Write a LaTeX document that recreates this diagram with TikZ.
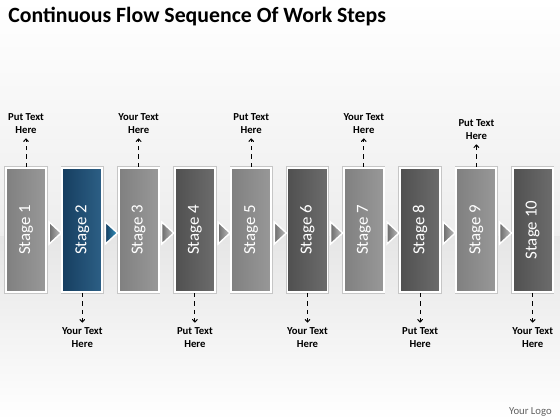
\documentclass[tikz,border=0pt]{standalone}
\usepackage{fontspec}
\setmainfont{Carlito}
\usepackage{tikz}
\usetikzlibrary{shapes.geometric,arrows.meta}
\definecolor{lightstage}{RGB}{128,128,128}
\definecolor{lightstagetwo}{RGB}{152,152,152}
\definecolor{darkstage}{RGB}{80,80,80}
\definecolor{darkstagetwo}{RGB}{108,108,108}
\definecolor{bluestage}{RGB}{22,62,96}
\definecolor{bluestagetwo}{RGB}{45,96,134}
\definecolor{bluetip}{RGB}{52,150,196}

\begin{document}
\begin{tikzpicture} [x=0.025cm, y=-0.025cm,
  stagebox/.style={minimum width=1cm, minimum height=3.1cm, inner sep=0pt,
    draw=white, line width=1.4pt, preaction={draw=gray!45, line width=2.4pt},
    text=white, font=\fontsize{12}{14}\selectfont},
  lightbox/.style={stagebox, left color=lightstage, right color=lightstagetwo},
  darkbox/.style={stagebox, left color=darkstage, right color=darkstagetwo},
  bluebox/.style={stagebox, left color=bluestage, right color=bluestagetwo},
  tip/.style={isosceles triangle, isosceles triangle stretches, inner sep=0pt,
    minimum height=0.3cm, minimum width=0.55cm, draw=white, line width=1pt,
    left color=gray!85!black, right color=gray!50},
  note/.style={align=center, font=\bfseries\fontsize{7.6}{9.2}\selectfont},
  pointer/.style={dashed, line width=0.7pt, -{To[length=2.5pt,width=4pt]}}]
\useasboundingbox (0,0) rectangle (560,420);
% background
\shade[top color=white, bottom color=gray!14] (0,0) rectangle (560,236);
\shade[top color=gray!20, bottom color=white] (0,236) rectangle (560,420);
% title
\node [anchor=base west, inner sep=0pt, font=\bfseries\fontsize{15.5}{18}\selectfont] (title) at (8,23) {Continuous Flow Sequence Of Work Steps};
% stages
\node [lightbox] (s1) at (26,230) {\rotatebox{90}{Stage 1}};
\node [bluebox] (s2) at (82.3,230) {\rotatebox{90}{Stage 2}};
\node [lightbox] (s3) at (138.6,230) {\rotatebox{90}{Stage 3}};
\node [darkbox] (s4) at (194.9,230) {\rotatebox{90}{Stage 4}};
\node [lightbox] (s5) at (251.2,230) {\rotatebox{90}{Stage 5}};
\node [darkbox] (s6) at (307.5,230) {\rotatebox{90}{Stage 6}};
\node [lightbox] (s7) at (363.8,230) {\rotatebox{90}{Stage 7}};
\node [darkbox] (s8) at (420.1,230) {\rotatebox{90}{Stage 8}};
\node [lightbox] (s9) at (476.4,230) {\rotatebox{90}{Stage 9}};
\node [darkbox] (s10) at (532.7,230) {\rotatebox{90}{Stage 10}};
% small triangles between the stages
\node [tip] (t1) at (54,233) {};
\node [tip, left color=bluestage, right color=bluetip] (t2) at (110.3,233) {};
\node [tip] (t3) at (166.6,233) {};
\node [tip] (t4) at (222.9,233) {};
\node [tip] (t5) at (279.2,233) {};
\node [tip] (t6) at (335.5,233) {};
\node [tip] (t7) at (391.8,233) {};
\node [tip] (t8) at (448.1,233) {};
\node [tip] (t9) at (504.4,233) {};
% notes above
\node [note] (a1) at (26,123.5) {Put Text\\Here};
\node [note] (a2) at (138.6,123.5) {Your Text\\Here};
\node [note] (a3) at (251.2,123.5) {Put Text\\Here};
\node [note] (a4) at (363.8,123.5) {Your Text\\Here};
\node [note] (a5) at (476.4,129.5) {Put Text\\Here};
\draw [pointer] (s1.north) -- (a1.south);
\draw [pointer] (s3.north) -- (a2.south);
\draw [pointer] (s5.north) -- (a3.south);
\draw [pointer] (s7.north) -- (a4.south);
\draw [pointer] (s9.north) -- (a5.south);
% notes below
\node [note] (b1) at (82.3,337.5) {Your Text\\Here};
\node [note] (b2) at (194.9,337.5) {Put Text\\Here};
\node [note] (b3) at (307.5,337.5) {Your Text\\Here};
\node [note] (b4) at (420.1,337.5) {Put Text\\Here};
\node [note] (b5) at (532.7,337.5) {Your Text\\Here};
\draw [pointer] (s2.south) -- (b1.north);
\draw [pointer] (s4.south) -- (b2.north);
\draw [pointer] (s6.south) -- (b3.north);
\draw [pointer] (s8.south) -- (b4.north);
\draw [pointer] (s10.south) -- (b5.north);
% logo
\node [anchor=base east, inner sep=0pt, text=gray!75!black, font=\fontsize{7.6}{9}\selectfont] (logo) at (552,414) {Your Logo};
\end{tikzpicture}
\end{document}
